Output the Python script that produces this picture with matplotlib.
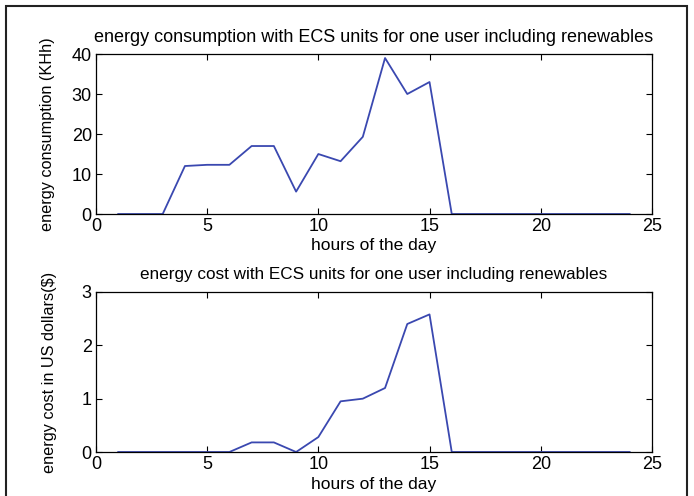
import matplotlib.pyplot as plt
from matplotlib.patches import Rectangle

hours = list(range(1, 25))
consumption = [0, 0, 0, 12, 12.3, 12.3, 17, 17, 5.6, 15, 13.2, 19.3,
               39, 30, 33, 0, 0, 0, 0, 0, 0, 0, 0, 0]
cost = [0, 0, 0, 0, 0, 0, 0.18, 0.18, 0, 0.28, 0.95, 1.0,
        1.2, 2.4, 2.58, 0, 0, 0, 0, 0, 0, 0, 0, 0]

LINE = "#3a48b0"
plt.rcParams["font.family"] = ["Liberation Sans", "DejaVu Sans"]


def style(ax, ymax, yticks):
    ax.set_xlim(0, 25)
    ax.set_ylim(0, ymax)
    ax.set_xticks([0, 5, 10, 15, 20, 25])
    ax.set_yticks(yticks)
    ax.tick_params(direction="in", top=True, right=True, labelsize=13, length=4, pad=3)
    for s in ax.spines.values():
        s.set_linewidth(0.9)


fig = plt.figure(figsize=(6.94, 4.96), dpi=100)
fig.patches.append(Rectangle((6 / 694, -0.1), 681 / 694, 1.1 - 6 / 496,
                             transform=fig.transFigure, fill=False,
                             edgecolor="#222222", linewidth=1.5))

ax1 = fig.add_axes([0.1383, 0.5685, 0.801, 0.3226])
ax1.plot(hours, consumption, color=LINE, linewidth=1.3)
style(ax1, 40, [0, 10, 20, 30, 40])
ax1.set_title("energy consumption with ECS units for one user including renewables",
              fontsize=13, pad=9)
ax1.set_xlabel("hours of the day", fontsize=12.5, labelpad=2)
ax1.set_ylabel("energy consumption (KHh)", fontsize=11.7, labelpad=12)

ax2 = fig.add_axes([0.1383, 0.0887, 0.801, 0.3226])
ax2.plot(hours, cost, color=LINE, linewidth=1.3)
style(ax2, 3, [0, 1, 2, 3])
ax2.set_title("energy cost with ECS units for one user including renewables",
              fontsize=12.3, pad=9)
ax2.set_xlabel("hours of the day", fontsize=12.5, labelpad=3)
ax2.set_ylabel("energy cost in US dollars($)", fontsize=11.7, labelpad=18)

fig.savefig("out.png", dpi=100)
